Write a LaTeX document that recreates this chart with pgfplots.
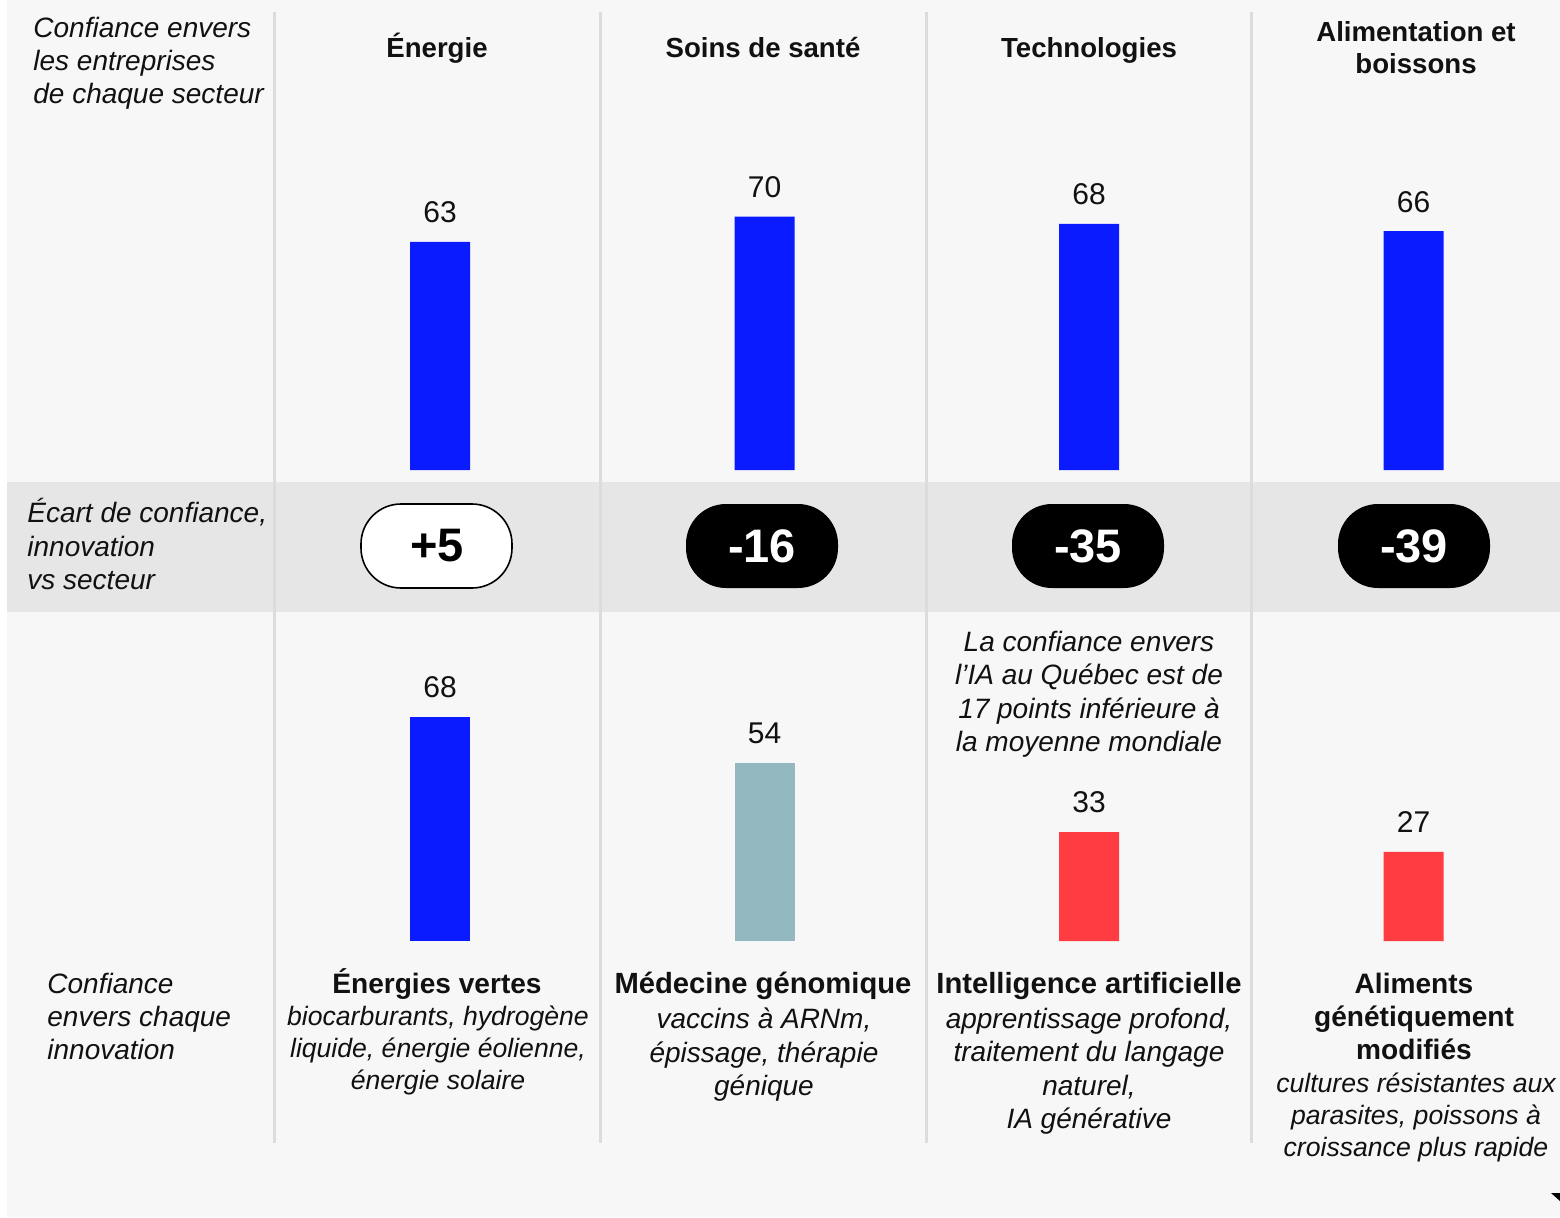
\documentclass[border=0pt]{standalone}
\usepackage{pgfplots}
\pgfplotsset{compat=1.18}
\usepackage{fontspec}
\setmainfont{Liberation Sans}
\definecolor{bgc}{HTML}{F7F7F7}
\definecolor{band}{HTML}{E6E6E6}
\definecolor{sep}{HTML}{DCDCDC}
\definecolor{bl}{HTML}{0A1BFF}
\definecolor{rd}{HTML}{FF3C41}
\definecolor{tl}{HTML}{93B8BF}
\definecolor{txt}{HTML}{111111}
\newcommand\fI{\fontsize{14}{16.5}\selectfont\itshape}
\newcommand\fH{\fontsize{13.8}{16.5}\selectfont\bfseries}
\newcommand\fB{\fontsize{14.6}{16.5}\selectfont\bfseries}
\newcommand\fBs{\fontsize{14.05}{16.5}\selectfont\bfseries}
\newcommand\fS{\fontsize{13.3}{16}\selectfont\itshape}
\newcommand\fSb{\fontsize{14}{16}\selectfont\itshape}
\newcommand\fP{\fontsize{23.5}{26}\selectfont\bfseries}
\begin{document}
\begin{tikzpicture}
\begin{scope}[x=0.5pt,y=-0.5pt]
\useasboundingbox (0,0) rectangle (1560,1217);
\fill[white] (0,0) rectangle (1560,1217);
\fill[bgc] (7,0) rectangle (1560,1217);
\fill[band] (7,482) rectangle (1560,612);
\foreach \x in {274,600,926,1251} \draw[sep, line width=1.5pt] (\x,12) -- (\x,1143);
\fill[black] (1551,1193) -- (1560,1193) -- (1560,1201) -- cycle;
\end{scope}

\begin{axis}[at={(138.9pt,-235pt)}, anchor=south west, x=162.25pt, y=1.81pt,
  xmin=-0.5, xmax=3.5, ymin=0, ymax=75, hide axis, clip=false,
  ybar, bar width=30pt, nodes near coords,
  /pgf/number format/assume math mode=true,
  every node near coord/.append style={font=\fontsize{15}{18}\selectfont, text=txt, anchor=base, inner sep=0pt, yshift=9.5pt}]
\addplot[fill=bl, draw=none, bar shift=0pt] coordinates {(0,63) (1,70) (2,68) (3,66)};
\end{axis}

\begin{axis}[at={(138.9pt,-470.5pt)}, anchor=south west, x=162.25pt, y=1.65pt,
  xmin=-0.5, xmax=3.5, ymin=0, ymax=75, hide axis, clip=false,
  ybar, bar width=30pt, nodes near coords,
  /pgf/number format/assume math mode=true,
  every node near coord/.append style={font=\fontsize{15}{18}\selectfont, text=txt, anchor=base, inner sep=0pt, yshift=9.75pt}]
\addplot[fill=bl, draw=none, bar shift=0pt] coordinates {(0,68)};
\addplot[fill=tl, draw=none, bar shift=0pt] coordinates {(1,54)};
\addplot[fill=rd, draw=none, bar shift=0pt] coordinates {(2,33) (3,27)};
\end{axis}

\begin{scope}[x=0.5pt,y=-0.5pt]
% pills
\draw[black, line width=0.8pt, fill=white, rounded corners=20pt] (361,504) rectangle (512,588);
\node[font=\fP, text=black, inner sep=0pt] at (437,546) {+5};
\fill[black, rounded corners=20pt] (686,504) rectangle (838,588);
\node[font=\fP, text=white, inner sep=0pt] at (762,546) {-16};
\fill[black, rounded corners=20pt] (1012,504) rectangle (1164,588);
\node[font=\fP, text=white, inner sep=0pt] at (1088,546) {-35};
\fill[black, rounded corners=20pt] (1338,504) rectangle (1490,588);
\node[font=\fP, text=white, inner sep=0pt] at (1414,546) {-39};

\tikzset{L/.style={anchor=base west, inner sep=0pt, text=txt}, C/.style={anchor=base, inner sep=0pt, text=txt}}
% left labels
\node[L, font=\fI] at (33,37) {Confiance envers};
\node[L, font=\fI] at (33,70) {les entreprises};
\node[L, font=\fI] at (33,103) {de chaque secteur};
\node[L, font=\fI] at (27,522) {Écart de confiance,};
\node[L, font=\fI] at (27,556) {innovation};
\node[L, font=\fI] at (27,589) {vs secteur};
\node[L, font=\fI] at (47,993) {Confiance};
\node[L, font=\fI] at (47,1026) {envers chaque};
\node[L, font=\fI] at (47,1059) {innovation};
% headers
\node[C, font=\fH] at (437,57) {Énergie};
\node[C, font=\fH] at (763,57) {Soins de santé};
\node[C, font=\fH] at (1089,57) {Technologies};
\node[C, font=\fH] at (1416,41) {Alimentation et};
\node[C, font=\fH] at (1416,73) {boissons};
% IA note
\node[C, font=\fI] at (1089,651) {La confiance envers};
\node[C, font=\fI] at (1089,684) {l’IA au Québec est de};
\node[C, font=\fI] at (1089,718) {17 points inférieure à};
\node[C, font=\fI] at (1089,751) {la moyenne mondiale};
% bottom labels
\node[C, font=\fBs] at (437,993) {Énergies vertes};
\node[C, font=\fS] at (438,1025) {biocarburants, hydrogène};
\node[C, font=\fS] at (438,1057) {liquide, énergie éolienne,};
\node[C, font=\fS] at (438,1089) {énergie solaire};
\node[C, font=\fB] at (763,993) {Médecine génomique};
\node[C, font=\fSb] at (764,1028) {vaccins à ARNm,};
\node[C, font=\fSb] at (764,1062) {épissage, thérapie};
\node[C, font=\fSb] at (764,1095) {génique};
\node[C, font=\fB] at (1089,993) {Intelligence artificielle};
\node[C, font=\fSb] at (1089,1028) {apprentissage profond,};
\node[C, font=\fSb] at (1089,1061) {traitement du langage};
\node[C, font=\fSb] at (1089,1095) {naturel,};
\node[C, font=\fSb] at (1089,1128) {IA générative};
\node[C, font=\fBs] at (1414,993) {Aliments};
\node[C, font=\fBs] at (1414,1026) {génétiquement};
\node[C, font=\fBs] at (1414,1059) {modifiés};
\node[C, font=\fS] at (1416,1092) {cultures résistantes aux};
\node[C, font=\fS] at (1416,1124) {parasites, poissons à};
\node[C, font=\fS] at (1416,1156) {croissance plus rapide};
\end{scope}
\end{tikzpicture}
\end{document}
